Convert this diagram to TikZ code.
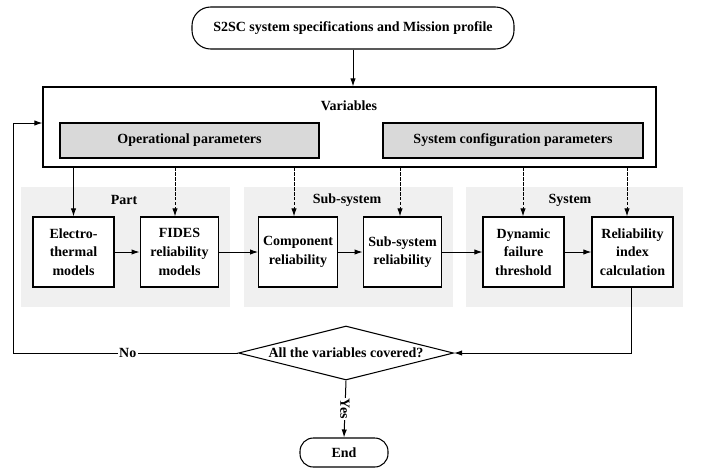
\documentclass[tikz,border=0pt]{standalone}
\usepackage{fontspec}
\setmainfont{Liberation Serif}[BoldFont={Liberation Serif Bold}]
\usetikzlibrary{arrows.meta,shapes.geometric}
\definecolor{panelgray}{HTML}{F0F0F0}
\definecolor{paramgray}{HTML}{D9D9D9}
\tikzset{
  stepbox/.style={draw,line width=0.8pt,fill=white,minimum width=59pt,minimum height=52.5pt,align=center,inner sep=1pt},
  parambox/.style={draw,line width=0.8pt,fill=paramgray,minimum height=26.25pt},
  panel/.style={fill=panelgray,minimum width=156.75pt,minimum height=90pt,inner sep=0pt},
  term/.style={draw,line width=0.8pt,rounded corners=14pt},
  lbl/.style={fill=white,inner sep=1pt},
  dashline/.style={->,dash pattern=on 2.5pt off 1.2pt}
}
\begin{document}
\begin{tikzpicture}[x=0.75pt,y=-0.75pt,>={Latex[length=6pt,width=4pt]},line width=0.75pt,
  font=\fontsize{10.5}{14}\selectfont\bfseries]
  \useasboundingbox (0,0) rectangle (702,472);
  \node[term,minimum width=241.5pt,minimum height=31.5pt] (spec) at (353,28) {S2SC system specifications and Mission profile};
  \node[draw,line width=0.8pt,minimum width=459.75pt,minimum height=60pt] (vars) at (349.5,127) {};
  \node (varlabel) at (349,106) {Variables};
  \node[parambox,minimum width=194.25pt] (oppar) at (189.5,140.5) {Operational parameters};
  \node[parambox,minimum width=195pt] (syspar) at (513,140.5) {System configuration parameters};
  \draw[->] (spec) -- (vars.north -| spec);
  \node[panel] (partpanel) at (125.5,247) {};
  \node[panel] (subpanel) at (348.5,247) {};
  \node[panel,minimum width=162.75pt] (syspanel) at (574.5,247) {};
  \node (parttitle) at (124,200) {Part};
  \node (subtitle) at (347,200) {Sub-system};
  \node (systitle) at (570,200) {System};
  \node[stepbox,minimum width=60.75pt] (etm) at (73.5,252) {Electro-\\thermal\\models};
  \node[stepbox] (fides) at (179.5,252) {FIDES\\reliability\\models};
  \node[stepbox] (comprel) at (298,252) {Component\\reliability};
  \node[stepbox] (subrel) at (402.5,252) {Sub-system\\reliability};
  \node[stepbox,minimum width=60.75pt] (dynthr) at (523.5,252) {Dynamic\\failure\\threshold};
  \node[stepbox,minimum width=60.75pt] (relidx) at (632.5,252) {Reliability\\index\\calculation};
  \draw[->] (vars.south -| etm) -- (etm);
  \draw[dashline] (vars.south -| 175,0) -- (fides.north -| 175,0);
  \draw[dashline] (vars.south -| 294,0) -- (comprel.north -| 294,0);
  \draw[dashline] (vars.south -| 400,0) -- (subrel.north -| 400,0);
  \draw[dashline] (vars.south -| 523,0) -- (dynthr.north -| 523,0);
  \draw[dashline] (vars.south -| 627,0) -- (relidx.north -| 627,0);
  \draw[->] (etm) -- (fides);
  \draw[->] (fides) -- (comprel);
  \draw[->] (comprel) -- (subrel);
  \draw[->] (subrel) -- (dynthr);
  \draw[->] (dynthr) -- (relidx);
  \node[draw,line width=0.8pt,diamond,aspect=4,inner sep=1pt,minimum width=161.25pt,minimum height=40.5pt] (check) at (346,353) {All the variables covered?};
  \node[term,rounded corners=10pt,minimum width=66pt,minimum height=21.75pt] (finish) at (344,452.5) {End};
  \draw[->] (relidx.south -| 631,0) |- (check.east);
  \coordinate (loopa) at (13,353);
  \coordinate (loopb) at (13,123);
  \draw[->] (check.west) -- node[lbl,pos=0.49] {No} (loopa) -- (loopb) -- (vars.west |- loopb);
  \draw[->] (check.south) -- node[lbl,rotate=-90] {Yes} (finish.north);
\end{tikzpicture}
\end{document}
